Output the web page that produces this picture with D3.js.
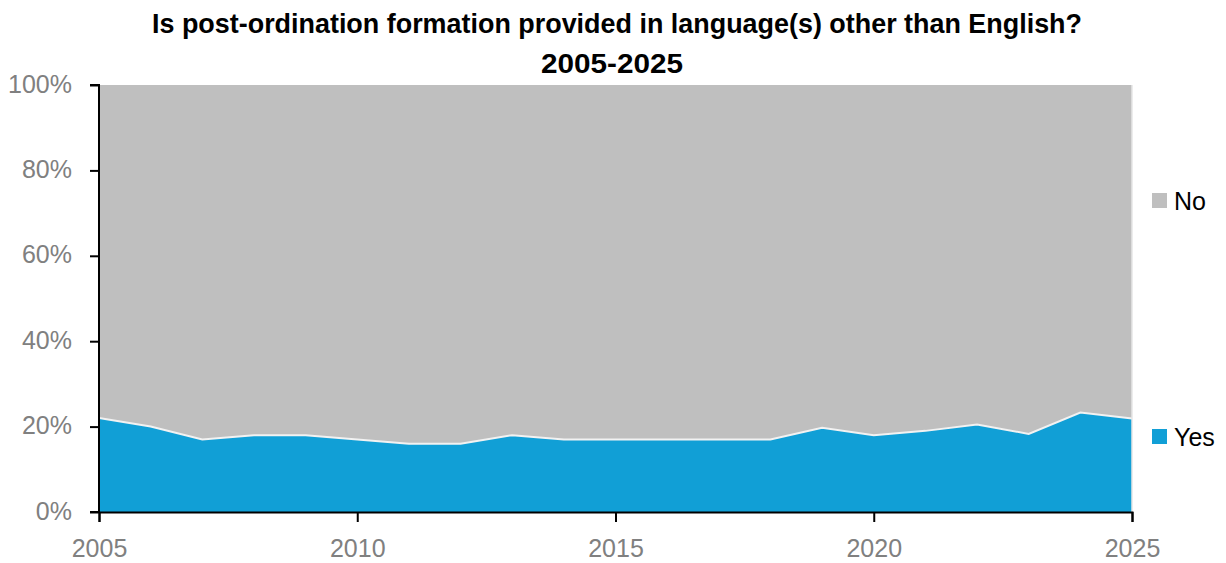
<!DOCTYPE html>
<html><head><meta charset="utf-8">
<script src="https://cdn.jsdelivr.net/npm/d3@7"></script>
<style>body{margin:0;background:#fff}svg{display:block}</style>
</head><body>
<svg id="c" width="1226" height="563"></svg>
<script>
const years = [2005,2006,2007,2008,2009,2010,2011,2012,2013,2014,2015,2016,2017,2018,2019,2020,2021,2022,2023,2024,2025];
const yesPct = [22,20,17,18,18,17,16,16,18,17,17,17,17,17,19.7,18,19,20.5,18.3,23.3,21.9];
const noPct = yesPct.map(v => 100 - v);
const yTicks = [0,20,40,60,80,100];
const xTicks = [2005,2010,2015,2020,2025];
const seriesNames = ["Yes","No"];
const colors = {Yes:"#119fd6", No:"#bfbfbf"};

const svg = d3.select("#c");
const m = {l:99, r:1132, t:85, b:512};
const x = d3.scaleLinear().domain([2005,2025]).range([m.l,m.r]);
const y = d3.scaleLinear().domain([0,100]).range([m.b,m.t]);

const data = years.map((yr,i)=>({year:yr, Yes:yesPct[i], No:noPct[i]}));
const stack = d3.stack().keys(seriesNames)(data);
const area = d3.area().x(d=>x(d.data.year)).y0(d=>y(d[0])).y1(d=>y(d[1]));
svg.selectAll("path.a").data(stack).enter().append("path")
  .attr("d",area).attr("fill",d=>colors[d.key]);
svg.append("path").datum(data)
  .attr("d",d3.line().x(d=>x(d.year)).y(d=>y(d.Yes)))
  .attr("fill","none").attr("stroke","#f2f2f2").attr("stroke-width",2);
svg.append("line").attr("x1",m.r).attr("x2",m.r).attr("y1",m.t).attr("y2",m.b).attr("stroke","#e6e6e6").attr("stroke-width",1.5);

const font = "'Liberation Sans', Arial, sans-serif";
const yAxis = svg.append("g").attr("transform",`translate(${m.l},0)`)
  .call(d3.axisLeft(y).tickValues(yTicks).tickFormat(d=>d+"%").tickSize(9).tickPadding(18));
const xAxis = svg.append("g").attr("transform",`translate(0,${m.b})`)
  .call(d3.axisBottom(x).tickValues(xTicks).tickFormat(d3.format("d")).tickSize(10).tickPadding(17));
[yAxis,xAxis].forEach(g=>{
  g.select(".domain").attr("stroke","#000").attr("stroke-width",2);
  g.selectAll(".tick line").attr("stroke","#000").attr("stroke-width",2);
  g.selectAll(".tick text").attr("fill","#808080").style("font-size","25px").style("font-family",font);
});
yAxis.selectAll(".tick text").attr("dy","0.28em");
yAxis.select(".domain").attr("d",`M-9,${m.t}H0V${m.b}H-9`);

const tf = "'Liberation Sans Narrow', 'Liberation Sans', sans-serif";
svg.append("text").attr("x",617).attr("y",33).attr("text-anchor","middle")
  .style("font-family",tf).style("font-weight","bold").style("font-size","28px")
  .attr("textLength",930).attr("lengthAdjust","spacingAndGlyphs")
  .text("Is post-ordination formation provided in language(s) other than English?");
svg.append("text").attr("x",612).attr("y",73).attr("text-anchor","middle")
  .style("font-family",tf).style("font-weight","bold").style("font-size","28px")
  .attr("textLength",142).attr("lengthAdjust","spacingAndGlyphs")
  .text("2005-2025");

const legend = [{k:"No",y:201},{k:"Yes",y:437}];
legend.forEach(l=>{
  svg.append("rect").attr("x",1152).attr("y",l.y-8).attr("width",15).attr("height",15).attr("fill",colors[l.k]);
  svg.append("text").attr("x",1174).attr("y",l.y+9).style("font-family",font).style("font-size","25px").attr("fill","#000").text(l.k);
});
</script>
</body></html>
